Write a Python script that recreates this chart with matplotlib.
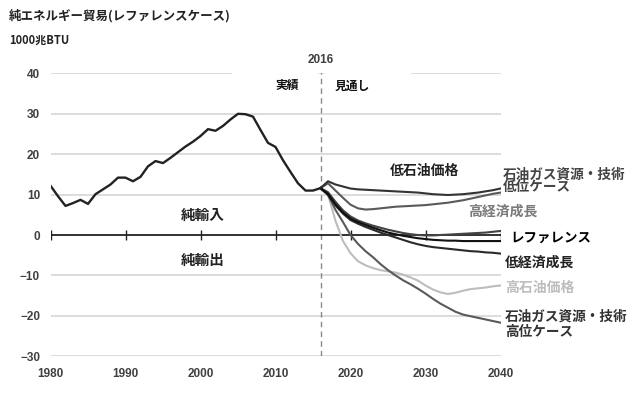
import matplotlib
matplotlib.use("Agg")
import matplotlib.pyplot as plt

plt.rcParams['font.family'] = ['Noto Sans CJK JP', 'DejaVu Sans']

# ---------------- data ----------------
hist_years = list(range(1980, 2017))
hist_vals = [12.2, 9.6, 7.2, 7.9, 8.7, 7.7, 10.1, 11.3, 12.5, 14.2,
             14.2, 13.3, 14.4, 17.0, 18.3, 17.8, 19.1, 20.5, 21.9, 23.1,
             24.5, 26.2, 25.8, 27.0, 28.6, 30.0, 29.9, 29.3, 26.0, 22.8,
             21.8, 18.5, 15.6, 12.8, 11.0, 11.0, 11.6]

proj_years = list(range(2016, 2041))
low_res_tech = [11.6, 13.3, 12.5, 12.0, 11.5, 11.3, 11.2, 11.1, 11.0, 10.9,
                10.8, 10.7, 10.6, 10.5, 10.3, 10.1, 10.0, 9.9, 10.0, 10.1,
                10.3, 10.5, 10.8, 11.1, 11.5]
high_growth = [11.6, 12.8, 11.0, 9.2, 7.5, 6.6, 6.3, 6.4, 6.6, 6.8,
               7.0, 7.1, 7.2, 7.3, 7.4, 7.6, 7.8, 8.0, 8.3, 8.6,
               9.0, 9.4, 9.8, 10.2, 10.5]
low_oil_price = [11.6, 10.6, 8.2, 6.1, 4.6, 3.6, 2.9, 2.3, 1.8, 1.3,
                 0.9, 0.5, 0.2, 0.0, -0.1, -0.1, 0.0, 0.1, 0.2, 0.3,
                 0.4, 0.5, 0.6, 0.8, 1.0]
reference = [11.6, 10.2, 7.6, 5.6, 4.1, 3.2, 2.5, 1.8, 1.2, 0.6,
             0.2, -0.2, -0.5, -0.8, -1.0, -1.2, -1.3, -1.4, -1.4, -1.5,
             -1.5, -1.5, -1.5, -1.5, -1.5]
low_growth = [11.6, 9.9, 7.3, 5.3, 3.7, 2.8, 2.0, 1.3, 0.6, 0.0,
              -0.6, -1.2, -1.8, -2.3, -2.7, -3.0, -3.2, -3.4, -3.6, -3.8,
              -4.0, -4.1, -4.3, -4.4, -4.6]
high_oil_price = [11.6, 10.0, 3.5, -1.5, -4.5, -6.5, -7.5, -8.2, -8.7, -9.0,
                  -9.3, -9.8, -10.5, -11.3, -12.5, -13.5, -14.2, -14.6, -14.3, -13.8,
                  -13.4, -13.2, -13.0, -12.7, -12.5]
high_res_tech = [11.6, 10.0, 6.2, 3.2, 0.0, -2.2, -4.0, -5.5, -7.2, -8.7,
                 -10.0, -11.2, -12.2, -13.3, -14.5, -15.8, -17.0, -18.0, -19.0, -19.7,
                 -20.1, -20.5, -20.9, -21.3, -21.7]

x_ticks = [1980, 1990, 2000, 2010, 2020, 2030, 2040]
y_ticks = [-30, -20, -10, 0, 10, 20, 30, 40]

# ---------------- figure ----------------
W, H = 640, 393
fig = plt.figure(figsize=(W / 100, H / 100), dpi=100)
ax = fig.add_axes([50.5 / W, (H - 356.2) / H, 450 / W, (356.2 - 73.4) / H])
ax.set_xlim(1980, 2040)
ax.set_ylim(-30, 40)
for s in ax.spines.values():
    s.set_visible(False)

grid_c = '#d9d9d9'
for y in y_ticks:
    if y == 0:
        continue
    if y == 40:
        ax.hlines(y, 1980, 2004.2, color=grid_c, lw=1.3, zorder=1)
        ax.hlines(y, 2028.1, 2040, color=grid_c, lw=1.3, zorder=1)
    else:
        ax.hlines(y, 1980, 2040, color=grid_c, lw=1.3, zorder=1)

# zero axis with decade ticks
ax.hlines(0, 1980, 2040, color='#222222', lw=1.3, zorder=3)
ax.vlines(x_ticks, -1.2, 1.2, color='#222222', lw=1.0, zorder=3)

# 2016 dashed divider
ax.vlines(2016, -30, 40.4, color='#8a8a8a', lw=1.0, linestyles=(0, (4, 3)), zorder=2)
ax.hlines(40.4, 2015.55, 2016.45, color='#8a8a8a', lw=1.0, zorder=2)

ax.set_xticks(x_ticks)
ax.set_yticks(y_ticks)
ax.tick_params(length=0)
ax.tick_params(axis='y', pad=7.5)
ax.tick_params(axis='x', pad=8.5)
for lab in ax.get_xticklabels() + ax.get_yticklabels():
    lab.set_family(['Liberation Sans', 'DejaVu Sans'])
    lab.set_fontweight('bold')
    lab.set_fontsize(8.5)
    lab.set_color('#404040')

# lines
lw = 1.5
ax.plot(proj_years, high_oil_price, color='#bdbdbd', lw=lw, zorder=4)
ax.plot(proj_years, high_res_tech, color='#5a5a5a', lw=lw, zorder=5)
ax.plot(proj_years, high_growth, color='#5a5a5a', lw=lw, zorder=5)
ax.plot(proj_years, low_res_tech, color='#333333', lw=lw, zorder=6)
ax.plot(proj_years, low_oil_price, color='#444444', lw=lw, zorder=6)
ax.plot(proj_years, low_growth, color='#2a2a2a', lw=lw, zorder=6)
ax.plot(proj_years, reference, color='#111111', lw=lw, zorder=7)
ax.plot(hist_years, hist_vals, color='#222222', lw=1.7, zorder=7)

# annotations
def t(x, y, s, size=10, color='#222222', ha='left'):
    return ax.text(x, y, s, fontsize=size, color=color, ha=ha, va='center',
                   fontweight='bold', zorder=10)

lbl = t(2016, 43.4, '2016', size=8.5, color='#404040', ha='center')
lbl.set_family(['Liberation Sans', 'DejaVu Sans'])
t(2011.5, 36.9, '実績', size=8.5, color='#111111', ha='center')
t(2020.2, 36.9, '見通し', size=8.5, color='#111111', ha='center')
t(2000.3, 5.1, '純輸入', size=10.5, color='#222222', ha='center')
t(2000.3, -6.1, '純輸出', size=10.5, color='#222222', ha='center')
t(2029.9, 15.8, '低石油価格', size=10, color='#222222', ha='center')
t(2040.35, 15.0, '石油ガス資源・技術', size=9.8, color='#444444')
t(2040.35, 11.9, '低位ケース', size=9.8, color='#444444')
t(2035.7, 5.8, '高経済成長', size=10, color='#7a7a7a')
t(2041.3, -0.6, 'レファレンス', size=9.7, color='#000000')
t(2040.6, -6.8, '低経済成長', size=10, color='#222222')
t(2040.6, -13.0, '高石油価格', size=10, color='#bdbdbd')
t(2040.6, -20.3, '石油ガス資源・技術', size=9.8, color='#333333')
t(2040.6, -24.0, '高位ケース', size=9.8, color='#333333')

fig.text(9 / W, 1 - 16 / H, '純エネルギー貿易(レファレンスケース)', fontsize=9,
         fontweight='bold', color='#222222', ha='left', va='center')
fig.text(9 / W, 1 - 40 / H, '1000兆BTU', fontsize=8, fontweight='bold',
         color='#222222', ha='left', va='center')

fig.savefig('out.png', dpi=100)
